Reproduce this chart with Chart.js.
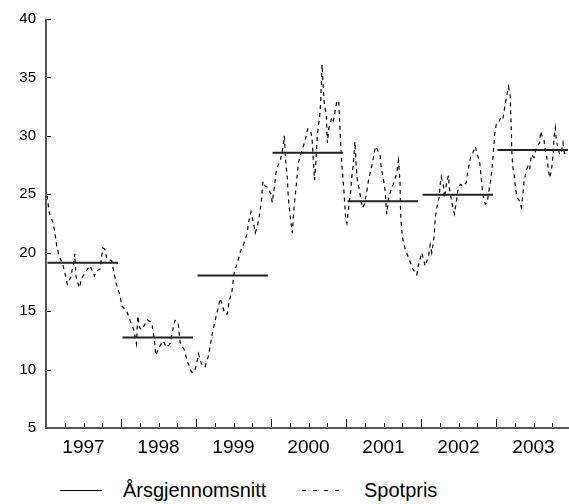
<!DOCTYPE html>
<html>
<head>
<meta charset="utf-8">
<script src="https://cdn.jsdelivr.net/npm/chart.js@4.4.1/dist/chart.umd.min.js"></script>
<style>
    html, body { margin: 0; padding: 0; background: #fff; overflow: hidden; }
    body { font-family: 'Liberation Sans', Arial, sans-serif; }
    #wrap { position: absolute; left: 0; top: 0; width: 571px; height: 466px; }
    .leg { position: absolute; top: 478px; font-size: 20px; line-height: 24px; color: #000; }
    .swatch { position: absolute; top: 490px; height: 0; }
    .solid { border-top: 1px solid #000; }
    .dashed { height: 1px; background: repeating-linear-gradient(to right, #000 0 4px, transparent 4px 11px); }
</style>
</head>
<body>
<div id="wrap"><canvas id="chart"></canvas></div>
<div class="swatch solid" style="left:60px;width:42px"></div>
<div class="leg" style="left:123px">Årsgjennomsnitt</div>
<div class="swatch dashed" style="left:302px;width:40px"></div>
<div class="leg" style="left:364px">Spotpris</div>
<script>
// Annual averages
const years = [1997, 1998, 1999, 2000, 2001, 2002, 2003];
const yearAvg = [19.15, 12.75, 18.05, 28.55, 24.4, 24.95, 28.8];

// Spot price, time as decimal year
const spotTime = [
    1997.013, 1997.044, 1997.097, 1997.120, 1997.143, 1997.174, 1997.218, 1997.254, 1997.284, 1997.330,
    1997.364, 1997.383, 1997.401, 1997.445, 1997.477, 1997.534, 1997.587, 1997.645, 1997.681, 1997.721,
    1997.757, 1997.784, 1997.810, 1997.877, 1997.908, 1997.939, 1997.988,
    1998.011, 1998.077, 1998.121, 1998.166, 1998.206, 1998.224, 1998.246, 1998.278, 1998.352, 1998.411,
    1998.451, 1998.463, 1998.505, 1998.562, 1998.606, 1998.652, 1998.718, 1998.762, 1998.789, 1998.842,
    1998.886, 1998.940, 1998.976,
    1999.009, 1999.033, 1999.073, 1999.119, 1999.167, 1999.199, 1999.216, 1999.252, 1999.292, 1999.323,
    1999.346, 1999.386, 1999.417, 1999.443, 1999.477, 1999.510, 1999.554, 1999.597, 1999.637, 1999.680,
    1999.701, 1999.733, 1999.768, 1999.790, 1999.821, 1999.848, 1999.870, 1999.893, 1999.920, 1999.951,
    1999.995,
    2000.017, 2000.040, 2000.071, 2000.128, 2000.160, 2000.178, 2000.195, 2000.218, 2000.231, 2000.248,
    2000.264, 2000.284, 2000.307, 2000.338, 2000.365, 2000.409, 2000.454, 2000.489, 2000.525, 2000.547,
    2000.561, 2000.581, 2000.601, 2000.618, 2000.649, 2000.662, 2000.681, 2000.694, 2000.712, 2000.738,
    2000.752, 2000.769, 2000.812, 2000.832, 2000.879, 2000.903, 2000.919, 2000.929, 2000.948, 2000.969,
    2000.983, 2000.996,
    2001.012, 2001.041, 2001.063, 2001.076, 2001.095, 2001.108, 2001.119, 2001.132, 2001.143, 2001.156,
    2001.170, 2001.188, 2001.219, 2001.246, 2001.276, 2001.299, 2001.322, 2001.353, 2001.379, 2001.397,
    2001.455, 2001.469, 2001.499, 2001.522, 2001.543, 2001.566, 2001.602, 2001.646, 2001.677, 2001.700,
    2001.709, 2001.720, 2001.726, 2001.730, 2001.740, 2001.753, 2001.789, 2001.842, 2001.891, 2001.944,
    2001.967,
    2002.011, 2002.056, 2002.100, 2002.123, 2002.144, 2002.167, 2002.180, 2002.190, 2002.211, 2002.243,
    2002.256, 2002.270, 2002.300, 2002.314, 2002.344, 2002.367, 2002.377, 2002.403, 2002.434, 2002.447,
    2002.491, 2002.523, 2002.567, 2002.603, 2002.625, 2002.661, 2002.692, 2002.724, 2002.750, 2002.781,
    2002.794, 2002.812, 2002.825, 2002.857, 2002.884, 2002.901, 2002.928, 2002.945, 2002.959, 2002.972,
    2002.981,
    2003.004, 2003.035, 2003.061, 2003.092, 2003.115, 2003.138, 2003.168, 2003.191, 2003.195, 2003.202,
    2003.206, 2003.208, 2003.215, 2003.226, 2003.248, 2003.257, 2003.284, 2003.315, 2003.338, 2003.359,
    2003.372, 2003.405, 2003.426, 2003.449, 2003.462, 2003.471, 2003.506, 2003.538, 2003.582, 2003.596,
    2003.613, 2003.640, 2003.649, 2003.672, 2003.693, 2003.716, 2003.738, 2003.760, 2003.773, 2003.792,
    2003.805, 2003.826, 2003.849, 2003.872, 2003.893, 2003.907, 2003.925
];
const spotPrice = [
    24.9, 23.4, 22.5, 21.6, 20.6, 19.7, 19.15, 18.2, 17.3, 17.9,
    19.0, 19.9, 17.9, 17.0, 17.85, 18.4, 18.9, 18.0, 18.45, 18.6,
    20.4, 20.3, 19.5, 19.3, 18.2, 17.3, 16.3,
    15.45, 15.0, 14.2, 13.5, 12.2, 14.6, 13.6, 13.4, 14.25, 14.0,
    12.2, 11.2, 11.9, 12.45, 11.9, 12.2, 14.2, 14.0, 12.3, 11.7,
    10.7, 9.8, 9.75,
    10.5, 11.35, 10.5, 10.2, 11.2, 12.4, 13.05, 14.1, 15.2, 16.1,
    15.6, 14.75, 14.75, 15.9, 16.6, 18.3, 19.2, 20.2, 20.75, 21.6,
    22.6, 23.5, 22.5, 21.7, 22.3, 23.3, 24.3, 26.1, 25.7, 25.6,
    25.1,
    24.3, 25.3, 27.1, 28.0, 29.0, 30.0, 27.85, 26.4, 24.7, 23.6,
    22.7, 21.7, 23.85, 25.85, 27.7, 28.7, 29.55, 30.6, 30.5, 29.85,
    28.3, 26.2, 28.1, 30.1, 31.7, 32.8, 36.1, 34.4, 32.7, 31.7,
    29.4, 30.6, 31.6, 31.3, 33.0, 33.0, 30.7, 29.3, 27.3, 25.6,
    24.2, 22.8,
    22.5, 24.15, 25.3, 26.4, 27.4, 28.55, 29.5, 27.85, 26.85, 25.85,
    25.7, 25.0, 23.85, 24.15, 25.15, 26.15, 26.85, 27.7, 28.7, 29.1,
    28.3, 27.3, 26.3, 25.3, 23.3, 24.6, 25.4, 26.15, 26.85, 27.9,
    27.0, 26.1, 24.1, 23.1, 22.1, 21.3, 20.3, 19.45, 18.6, 18.1,
    19.0,
    20.0, 18.85, 19.7, 20.7, 20.0, 21.0, 21.85, 23.0, 23.85, 24.8,
    25.85, 26.5, 25.7, 24.7, 26.15, 26.6, 25.6, 24.6, 23.6, 23.3,
    25.3, 25.85, 25.7, 26.0, 27.0, 28.15, 28.55, 29.1, 28.4, 27.85,
    27.0, 25.85, 25.0, 24.15, 24.3, 25.15, 26.15, 27.1, 28.15, 29.1,
    30.1,
    31.0, 31.1, 31.55, 31.4, 32.4, 33.3, 34.2, 33.3, 32.1, 31.1,
    30.1, 29.1, 28.15, 27.3, 26.4, 25.6, 24.7, 24.4, 23.9, 25.0,
    26.0, 27.1, 27.4, 27.1, 27.85, 28.4, 28.15, 29.0, 29.4, 30.4,
    30.0, 29.7, 29.1, 28.4, 27.4, 26.4, 27.0, 28.3, 29.85, 30.7,
    29.6, 29.0, 28.4, 28.7, 29.4, 28.7, 28.3
];

const yTicks = [5, 10, 15, 20, 25, 30, 35, 40];
const fontFamily = "'Liberation Sans', Arial, sans-serif";

// one short segment per year for the annual mean, broken by a null point
const avgData = [];
years.forEach((yr, i) => {
    avgData.push({ x: yr + 0.02, y: yearAvg[i] });
    avgData.push({ x: yr + 0.96, y: yearAvg[i] });
    avgData.push({ x: yr + 0.99, y: null });
});

// Inward tick marks and axis lines, drawn from the chart's own scales
const axisPlugin = {
    id: 'axisLines',
    afterDatasetsDraw(chart) {
        const { ctx, chartArea: a, scales: { x, y } } = chart;
        ctx.save();
        ctx.strokeStyle = '#000';
        ctx.lineWidth = 1;
        yTicks.forEach(v => {
            const py = Math.round(y.getPixelForValue(v)) + 0.5;
            ctx.beginPath();
            ctx.moveTo(a.left, py);
            ctx.lineTo(a.left + 5, py);
            ctx.stroke();
        });
        for (let q = 0; q <= years.length * 4; q++) {
            const px = Math.round(x.getPixelForValue(years[0] + q / 4)) + 0.5;
            const len = q % 4 === 0 ? 9 : 5;
            ctx.beginPath();
            ctx.moveTo(px, a.bottom);
            ctx.lineTo(px, a.bottom - len);
            ctx.stroke();
        }
        ctx.strokeStyle = '#555';
        ctx.lineWidth = 2;
        ctx.beginPath();
        ctx.moveTo(a.left, a.top);
        ctx.lineTo(a.left, a.bottom);
        ctx.lineTo(a.right, a.bottom);
        ctx.stroke();
        ctx.restore();
    }
};

new Chart(document.getElementById('chart').getContext('2d'), {
    type: 'line',
    data: {
        datasets: [
            {
                label: 'Årsgjennomsnitt',
                data: avgData,
                borderColor: '#222',
                borderWidth: 2,
                pointRadius: 0,
                spanGaps: false
            },
            {
                label: 'Spotpris',
                data: spotTime.map((t, i) => ({ x: t, y: spotPrice[i] })),
                borderColor: '#000',
                borderWidth: 1.2,
                borderDash: [4, 4],
                pointRadius: 0,
                tension: 0
            }
        ]
    },
    options: {
        responsive: true,
        maintainAspectRatio: false,
        animation: false,
        layout: { padding: { left: 0, right: 0, top: 18, bottom: 0 } },
        plugins: { legend: { display: false }, tooltip: { enabled: false } },
        scales: {
            x: {
                type: 'linear',
                min: years[0],
                max: years[years.length - 1] + 1,
                grid: { display: false, drawTicks: false },
                border: { display: false },
                afterBuildTicks: (scale) => {
                    scale.ticks = years.map(yr => ({ value: yr + 0.5 }));
                },
                ticks: {
                    autoSkip: false,
                    maxRotation: 0,
                    color: '#000',
                    padding: 8,
                    font: { size: 19, family: fontFamily },
                    callback: (v) => String(Math.floor(v))
                },
                afterFit: (scale) => { scale.height = 38; }
            },
            y: {
                min: 5,
                max: 40,
                grid: { display: false, drawTicks: false },
                border: { display: false },
                ticks: {
                    stepSize: 5,
                    color: '#000',
                    padding: 10,
                    font: { size: 15, family: fontFamily }
                },
                afterFit: (scale) => { scale.width = 46; }
            }
        }
    },
    plugins: [axisPlugin]
});
</script>
</body>
</html>
